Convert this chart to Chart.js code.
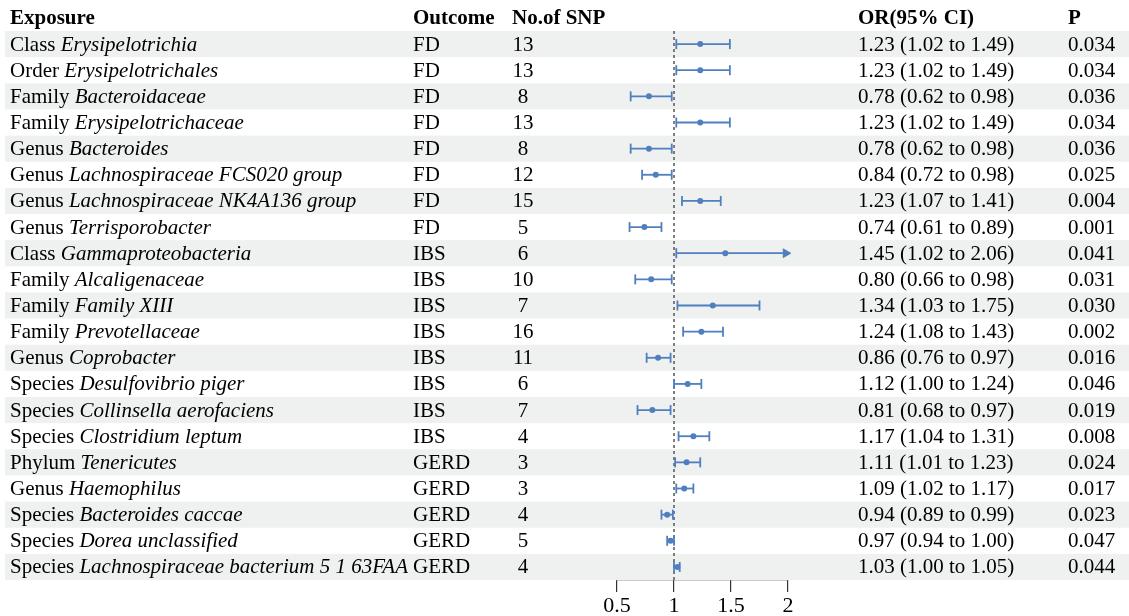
<!DOCTYPE html>
<html>
<head>
<meta charset="utf-8">
<script src="https://cdn.jsdelivr.net/npm/chart.js@4.4.1/dist/chart.umd.min.js"></script>
<style>
  body { margin: 0; background: #fff; }
  canvas { display: block; }
</style>
</head>
<body>
<canvas id="forest" width="1129" height="616"></canvas>
<script>
const ranks = ['Class', 'Order', 'Family', 'Family', 'Genus', 'Genus', 'Genus', 'Genus',
  'Class', 'Family', 'Family', 'Family', 'Genus', 'Species', 'Species', 'Species',
  'Phylum', 'Genus', 'Species', 'Species', 'Species'];
const taxa = ['Erysipelotrichia', 'Erysipelotrichales', 'Bacteroidaceae', 'Erysipelotrichaceae',
  'Bacteroides', 'Lachnospiraceae FCS020 group', 'Lachnospiraceae NK4A136 group', 'Terrisporobacter',
  'Gammaproteobacteria', 'Alcaligenaceae', 'Family XIII', 'Prevotellaceae', 'Coprobacter',
  'Desulfovibrio piger', 'Collinsella aerofaciens', 'Clostridium leptum', 'Tenericutes',
  'Haemophilus', 'Bacteroides caccae', 'Dorea unclassified', 'Lachnospiraceae bacterium 5 1 63FAA'];
const outcomes = ['FD', 'FD', 'FD', 'FD', 'FD', 'FD', 'FD', 'FD',
  'IBS', 'IBS', 'IBS', 'IBS', 'IBS', 'IBS', 'IBS', 'IBS',
  'GERD', 'GERD', 'GERD', 'GERD', 'GERD'];
const nSnp = [13, 13, 8, 13, 8, 12, 15, 5, 6, 10, 7, 16, 11, 6, 7, 4, 3, 3, 4, 5, 4];
const orVal = [1.23, 1.23, 0.78, 1.23, 0.78, 0.84, 1.23, 0.74, 1.45, 0.80, 1.34, 1.24, 0.86,
  1.12, 0.81, 1.17, 1.11, 1.09, 0.94, 0.97, 1.03];
const ciLow = [1.02, 1.02, 0.62, 1.02, 0.62, 0.72, 1.07, 0.61, 1.02, 0.66, 1.03, 1.08, 0.76,
  1.00, 0.68, 1.04, 1.01, 1.02, 0.89, 0.94, 1.00];
const ciHigh = [1.49, 1.49, 0.98, 1.49, 0.98, 0.98, 1.41, 0.89, 2.06, 0.98, 1.75, 1.43, 0.97,
  1.24, 0.97, 1.31, 1.23, 1.17, 0.99, 1.00, 1.05];
const pVal = ['0.034', '0.034', '0.036', '0.034', '0.036', '0.025', '0.004', '0.001', '0.041',
  '0.031', '0.030', '0.002', '0.016', '0.046', '0.019', '0.008', '0.024', '0.017', '0.023',
  '0.047', '0.044'];
const xTicks = [0.5, 1, 1.5, 2];
const xMin = 0.5, xMax = 2;

const blue = '#4f7fbf';
const shade = '#eef1f0';
const serif = '"Liberation Serif", "Times New Roman", serif';
const nRows = taxa.length;

// one dataset per CI line, caps and arrow separately
const datasets = [];
for (let i = 0; i < nRows; i++) {
  datasets.push({
    type: 'scatter', showLine: true,
    data: [{x: ciLow[i], y: i + 1}, {x: Math.min(ciHigh[i], xMax), y: i + 1}],
    borderColor: blue, borderWidth: 1.8, pointRadius: 0, clip: false
  });
}
const caps = [];
const arrows = [];
for (let i = 0; i < nRows; i++) {
  caps.push({x: ciLow[i], y: i + 1});
  if (ciHigh[i] > xMax) arrows.push({x: xMax - 0.02, y: i + 1});
  else caps.push({x: ciHigh[i], y: i + 1});
}
datasets.push({
  type: 'scatter', data: caps, pointStyle: 'line', rotation: 90, radius: 5,
  borderColor: blue, borderWidth: 1.8, clip: false
});
datasets.push({
  type: 'scatter', data: arrows, pointStyle: 'triangle', rotation: 90, radius: 5,
  backgroundColor: blue, borderColor: blue, borderWidth: 1, clip: false
});
datasets.push({
  type: 'scatter', data: orVal.map((v, i) => ({x: v, y: i + 1})),
  pointStyle: 'circle', radius: 3, backgroundColor: blue, borderColor: blue, borderWidth: 0, clip: false
});
// reference line at OR = 1
datasets.push({
  type: 'scatter', showLine: true, data: [{x: 1, y: 0.5}, {x: 1, y: nRows + 0.5}],
  borderColor: '#555', borderWidth: 1.5, borderDash: [3, 3], pointRadius: 0, clip: false
});

// columns: [bg left, bg right, text x, align]
// each column paints its own background, so long exposure text is cut by the outcome cell
const cols = {
  exposure: [5, 408, 10, 'left'],
  outcome: [408, 505, 413, 'left'],
  snp: [505, 600, 523, 'center'],
  plot: [600, 850, 0, 'left'],
  or: [850, 1060, 858, 'left'],
  p: [1060, 1129, 1068, 'left']
};

const tablePlugin = {
  id: 'table',
  beforeDatasetsDraw(chart) {
    const ctx = chart.ctx;
    const y = chart.scales.y;
    const rowH = Math.abs(y.getPixelForValue(1) - y.getPixelForValue(0));
    const normal = '21px ' + serif;
    const ital = 'italic 21px ' + serif;
    const bold = 'bold 21px ' + serif;
    const dy = 1;
    ctx.save();
    ctx.textBaseline = 'middle';
    ctx.fillStyle = '#000';

    const headY = y.getPixelForValue(0) + dy;
    ctx.font = bold;
    ctx.textAlign = 'left';
    ctx.fillText('Exposure', 10, headY);
    ctx.fillText('Outcome', 413, headY);
    ctx.fillText('No.of SNP', 512, headY);
    ctx.fillText('OR(95% CI)', 858, headY);
    ctx.fillText('P', 1068, headY);

    const cellText = {
      outcome: i => outcomes[i],
      snp: i => String(nSnp[i]),
      or: i => orVal[i].toFixed(2) + ' (' + ciLow[i].toFixed(2) + ' to ' + ciHigh[i].toFixed(2) + ')',
      p: i => pVal[i]
    };

    for (const key of Object.keys(cols)) {
      const [l, r, tx, align] = cols[key];
      for (let i = 0; i < nRows; i++) {
        const cy = y.getPixelForValue(i + 1);
        if (i % 2 === 0) {
          ctx.fillStyle = shade;
          ctx.fillRect(l, cy - rowH / 2, r - l, rowH);
        }
        ctx.fillStyle = '#000';
        if (key === 'plot') continue;
        if (key === 'exposure') {
          ctx.textAlign = 'left';
          ctx.font = normal;
          const lead = ranks[i] + ' ';
          ctx.fillText(lead, tx, cy + dy);
          const w = ctx.measureText(lead).width;
          ctx.font = ital;
          ctx.fillText(taxa[i], tx + w, cy + dy);
        } else {
          ctx.textAlign = align;
          ctx.font = normal;
          ctx.fillText(cellText[key](i), tx, cy + dy);
        }
      }
    }
    ctx.restore();
  }
};

new Chart(document.getElementById('forest'), {
  type: 'scatter',
  data: {datasets: datasets},
  options: {
    responsive: false,
    animation: false,
    layout: {padding: {left: 617, right: 341, top: 31, bottom: 0}},
    plugins: {legend: {display: false}, tooltip: {enabled: false}},
    scales: {
      x: {
        type: 'linear', min: xMin, max: xMax,
        afterBuildTicks: s => { s.ticks = xTicks.map(v => ({value: v})); },
        afterFit: s => { s.height = 36; },
        border: {display: true, color: '#333', width: 1.2},
        grid: {drawOnChartArea: false, drawTicks: true, tickLength: 12, color: '#333', lineWidth: 1.2},
        ticks: {color: '#000', padding: 1, font: {family: serif, size: 22}, callback: v => String(v)}
      },
      y: {
        type: 'linear', min: 0.5, max: nRows + 0.5, reverse: true, display: false
      }
    }
  },
  plugins: [tablePlugin]
});
</script>
</body>
</html>
